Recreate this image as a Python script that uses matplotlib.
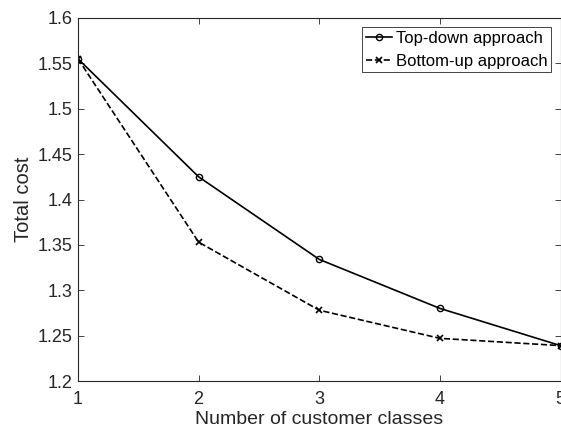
import matplotlib.pyplot as plt

# number of customer classes and total cost for both approaches
clases = [1, 2, 3, 4, 5]
top_down = [1.555, 1.425, 1.334, 1.280, 1.239]
bottom_up = [1.555, 1.353, 1.278, 1.247, 1.239]
yticks = [1.2, 1.25, 1.3, 1.35, 1.4, 1.45, 1.5, 1.55, 1.6]

plt.rcParams['font.family'] = ['Liberation Sans', 'DejaVu Sans']
gris = '#262626'

fig = plt.figure(figsize=(5.61, 4.34), dpi=100)
ax = fig.add_axes([78 / 561, 1 - 381 / 434, (560.5 - 78) / 561, (381 - 18) / 434])

ax.plot(clases, top_down, '-o', color='black', lw=1.2, ms=4.5, mfc='none', mew=1.0,
        label='Top-down approach')
ax.plot(clases, bottom_up, '--x', color='black', lw=1.2, ms=5, mew=1.2,
        label='Bottom-up approach')

ax.set_xlim(1, 5)
ax.set_ylim(1.2, 1.6)
ax.set_xticks(clases)
ax.set_yticks(yticks)
ax.set_yticklabels(['1.2', '1.25', '1.3', '1.35', '1.4', '1.45', '1.5', '1.55', '1.6'])
ax.tick_params(direction='in', top=True, right=True, length=4, width=0.6,
               colors=gris, labelsize=13, labelcolor=gris)
ax.tick_params(axis='x', pad=7)
ax.tick_params(axis='y', pad=4)
for s in ax.spines.values():
    s.set_color(gris)
    s.set_linewidth(0.8)

ax.set_xlabel('Number of customer classes', fontsize=14, color=gris, labelpad=2)
ax.set_ylabel('Total cost', fontsize=14.5, color=gris, labelpad=3)

leg = ax.legend(loc='upper right', fontsize=12, fancybox=False, framealpha=1,
                edgecolor=gris, handlelength=1.6, handletextpad=0.25,
                borderpad=0.2, labelspacing=0.5, borderaxespad=0.55)
leg.get_frame().set_linewidth(0.6)

fig.savefig('out.png', dpi=100)
